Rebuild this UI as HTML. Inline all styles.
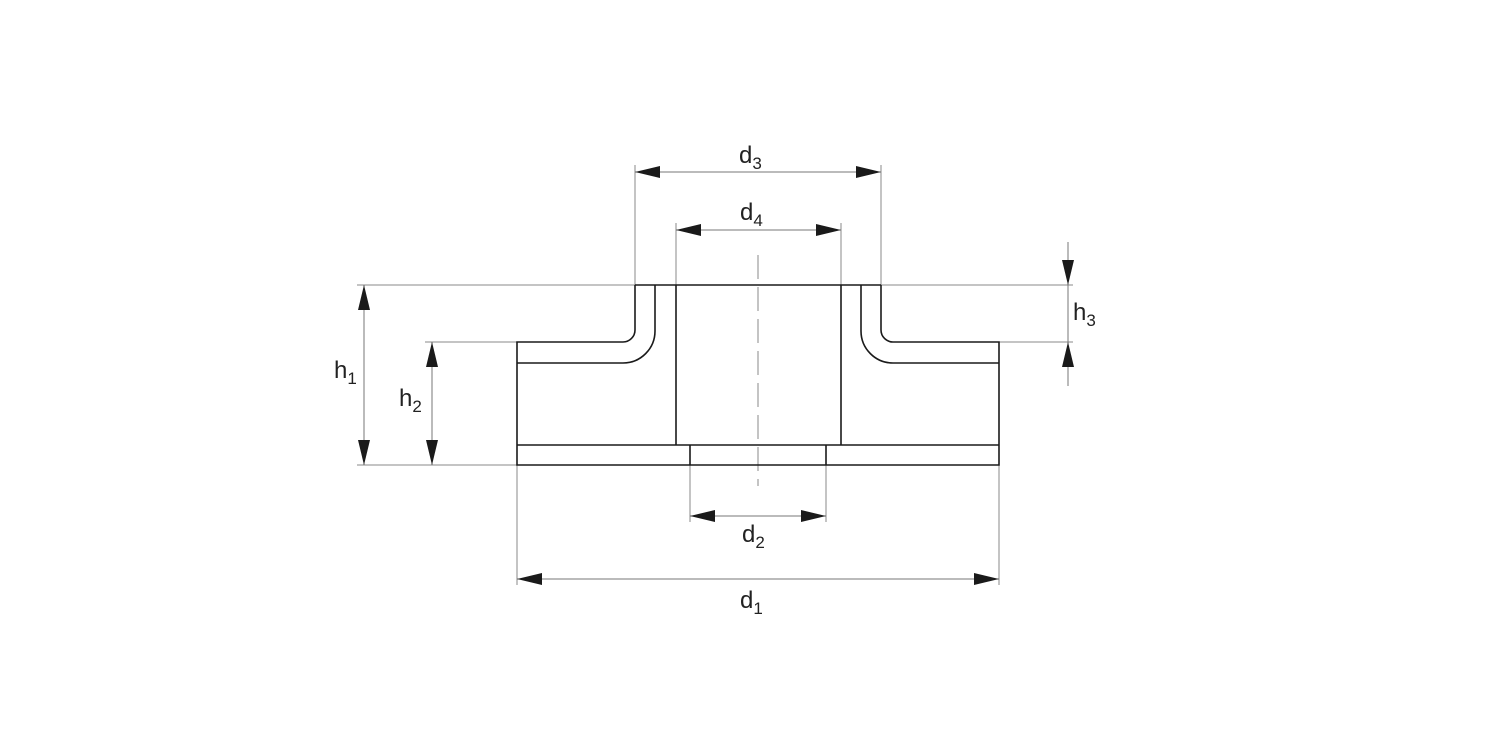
<!DOCTYPE html>
<html><head><meta charset="utf-8"><style>
html,body{margin:0;padding:0;background:#fff}
svg{display:block}
text{font-family:"Liberation Sans",Arial,sans-serif;fill:#222}
</style></head><body>
<svg width="1500" height="750" viewBox="0 0 1500 750" xmlns="http://www.w3.org/2000/svg">
<defs>
<marker id="a" viewBox="0 0 25 12" refX="25" refY="6" markerWidth="25" markerHeight="12" markerUnits="userSpaceOnUse" orient="auto">
<path d="M0,0 L25,6 L0,12 Z" fill="#1a1a1a"/></marker>
<marker id="b" viewBox="0 0 25 12" refX="0" refY="6" markerWidth="25" markerHeight="12" markerUnits="userSpaceOnUse" orient="auto">
<path d="M25,0 L0,6 L25,12 Z" fill="#1a1a1a"/></marker>
</defs>
<g stroke="#888" stroke-width="1" fill="none">
<line x1="357" y1="285" x2="635" y2="285"/>
<line x1="881" y1="285" x2="1073" y2="285"/>
<line x1="425" y1="342" x2="517" y2="342"/>
<line x1="999" y1="342" x2="1073" y2="342"/>
<line x1="357" y1="465" x2="517" y2="465"/>
<line x1="635" y1="165" x2="635" y2="285"/>
<line x1="881" y1="165" x2="881" y2="285"/>
<line x1="676" y1="223" x2="676" y2="285"/>
<line x1="841" y1="223" x2="841" y2="285"/>
<line x1="690" y1="465" x2="690" y2="522"/>
<line x1="826" y1="465" x2="826" y2="522"/>
<line x1="517" y1="465" x2="517" y2="585"/>
<line x1="999" y1="465" x2="999" y2="585"/>
<line x1="758" y1="255" x2="758" y2="486" stroke-dasharray="24,8"/>
</g>
<g stroke="#777" stroke-width="1" fill="none">
<line x1="635" y1="172" x2="881" y2="172" marker-start="url(#b)" marker-end="url(#a)"/>
<line x1="676" y1="230" x2="841" y2="230" marker-start="url(#b)" marker-end="url(#a)"/>
<line x1="690" y1="516" x2="826" y2="516" marker-start="url(#b)" marker-end="url(#a)"/>
<line x1="517" y1="579" x2="999" y2="579" marker-start="url(#b)" marker-end="url(#a)"/>
<line x1="364" y1="285" x2="364" y2="465" marker-start="url(#b)" marker-end="url(#a)"/>
<line x1="432" y1="342" x2="432" y2="465" marker-start="url(#b)" marker-end="url(#a)"/>
<line x1="1068" y1="242" x2="1068" y2="285" marker-end="url(#a)"/>
<line x1="1068" y1="386" x2="1068" y2="342" marker-end="url(#a)"/>
<line x1="1068" y1="285" x2="1068" y2="342"/>
</g>
<g stroke="#1a1a1a" stroke-width="1.6" fill="none">
<line x1="635" y1="285" x2="881" y2="285"/>
<path d="M635,285 L635,330 A12,12 0 0 1 623,342 L517,342 L517,465 L999,465 L999,342 L893,342 A12,12 0 0 1 881,330 L881,285"/>
<path d="M655,285 L655,331 A32,32 0 0 1 623,363 L517,363"/>
<path d="M861,285 L861,331 A32,32 0 0 0 893,363 L999,363"/>
<line x1="676" y1="285" x2="676" y2="445"/>
<line x1="841" y1="285" x2="841" y2="445"/>
<line x1="517" y1="445" x2="999" y2="445"/>
<line x1="690" y1="445" x2="690" y2="465"/>
<line x1="826" y1="445" x2="826" y2="465"/>
</g>
<g font-size="24">
<text x="739" y="163">d<tspan font-size="17" dy="6">3</tspan></text>
<text x="740" y="220">d<tspan font-size="17" dy="6">4</tspan></text>
<text x="742" y="542">d<tspan font-size="17" dy="6">2</tspan></text>
<text x="740" y="608">d<tspan font-size="17" dy="6">1</tspan></text>
<text x="334" y="378">h<tspan font-size="17" dy="6">1</tspan></text>
<text x="399" y="406">h<tspan font-size="17" dy="6">2</tspan></text>
<text x="1073" y="320">h<tspan font-size="17" dy="6">3</tspan></text>
</g>
</svg>
</body></html>
